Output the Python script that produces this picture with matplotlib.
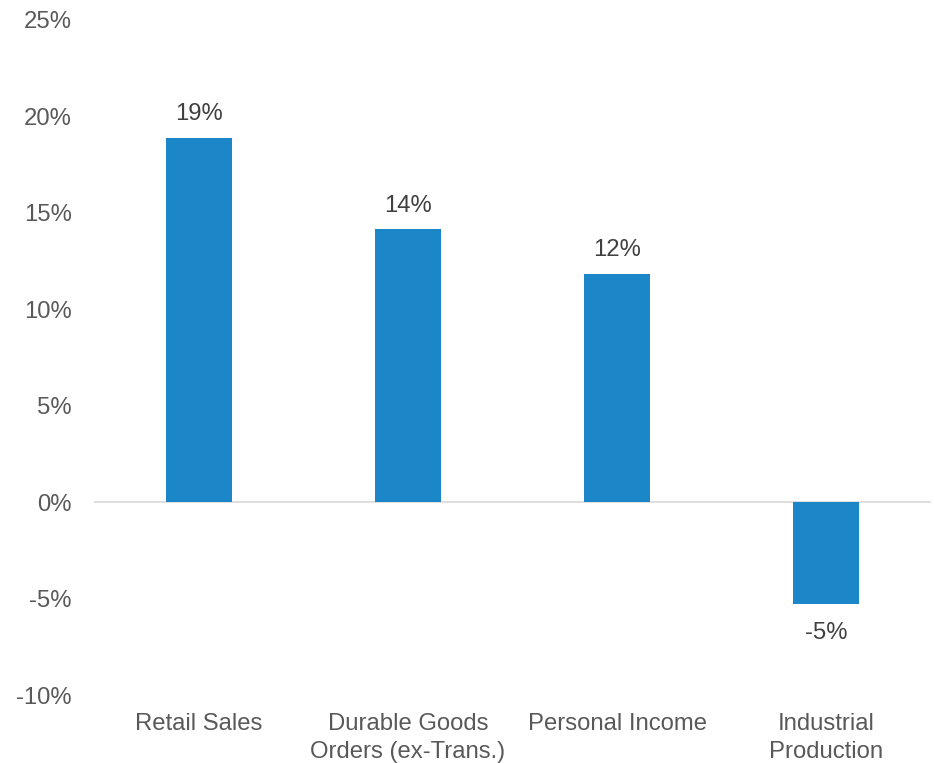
"""Bar chart of year-over-year change in key economic indicators."""

import matplotlib

matplotlib.use("Agg")
import matplotlib.pyplot as plt
from matplotlib.ticker import FuncFormatter

CATEGORIES = [
    "Retail Sales",
    "Durable Goods\nOrders (ex-Trans.)",
    "Personal Income",
    "Industrial\nProduction",
]
CHANGE_PCT = [18.9, 14.15, 11.85, -5.3]
Y_TICKS = [-10, -5, 0, 5, 10, 15, 20, 25]

BAR_COLOR = "#1B87C9"
TICK_COLOR = "#595959"
LABEL_COLOR = "#404040"
ZERO_LINE = "#D9D9D9"
FONT_SIZE = 17.2

plt.rcParams["font.family"] = ["Liberation Sans", "DejaVu Sans"]


def main() -> None:
    fig = plt.figure(figsize=(9.34, 7.63), dpi=100)
    ax = fig.add_axes([0.1006, 0.0891, 0.8962, 0.8847])

    x = list(range(len(CATEGORIES)))
    bars = ax.bar(x, CHANGE_PCT, width=0.315, color=BAR_COLOR, zorder=2)
    ax.axhline(0, color=ZERO_LINE, linewidth=1.2, zorder=1)

    for rect, val in zip(bars, CHANGE_PCT):
        cx = rect.get_x() + rect.get_width() / 2
        if val >= 0:
            ax.annotate(f"{val:.0f}%", (cx, val), xytext=(0, 9),
                        textcoords="offset points", ha="center", va="bottom",
                        fontsize=FONT_SIZE, color=LABEL_COLOR)
        else:
            ax.annotate(f"{val:.0f}%", (cx, val), xytext=(0, -13),
                        textcoords="offset points", ha="center", va="top",
                        fontsize=FONT_SIZE, color=LABEL_COLOR)

    ax.set_xlim(-0.5, len(CATEGORIES) - 0.5)
    ax.set_ylim(Y_TICKS[0], Y_TICKS[-1])
    ax.set_yticks(Y_TICKS)
    ax.yaxis.set_major_formatter(FuncFormatter(lambda v, _: f"{v:.0f}%"))
    ax.set_xticks(x)
    ax.set_xticklabels(CATEGORIES, linespacing=1.35)

    ax.tick_params(axis="y", length=0, pad=16, labelsize=FONT_SIZE, labelcolor=TICK_COLOR)
    ax.tick_params(axis="x", length=0, pad=13, labelsize=FONT_SIZE, labelcolor=TICK_COLOR)
    for spine in ax.spines.values():
        spine.set_visible(False)

    fig.savefig("out.png", dpi=100, facecolor="white")


if __name__ == "__main__":
    main()
